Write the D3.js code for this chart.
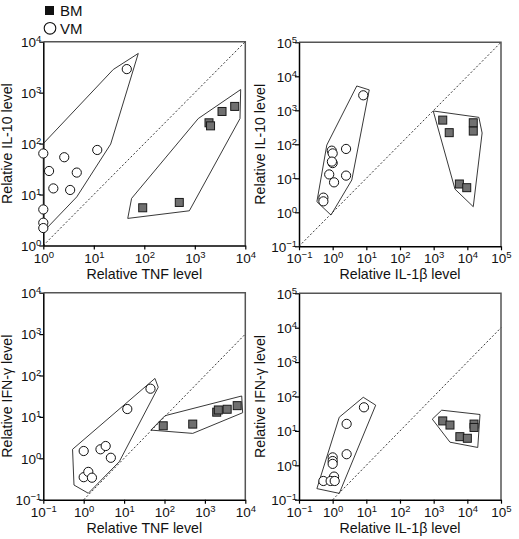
<!DOCTYPE html>
<html><head><meta charset="utf-8">
<script src="https://cdn.jsdelivr.net/npm/d3@7"></script>
<style>
body{margin:0;background:#fff;}
text{font-family:"Liberation Sans",Arial,Helvetica,sans-serif;fill:#111;}
</style></head>
<body>
<script>
// ---------- DATA ----------
// Panel A: IL-10 vs TNF
const aBM = [[1910,256],[2050,223],[3460,427],[6170,537],[93,5.5],[493,7.0]];
const aVM = [[45,2900],[1,64],[2.6,54],[11.7,75],[1.3,29],[4.6,27],[1.58,13.2],[3.4,12.3],[1,5.1],[1,2.8],[1,2.2]];
const aHullVM = [[76,5880],[24.3,2850],[1,100],[1,1.86],[4.6,9],[21.6,98]];
const aHullBM = [[8100,1150],[1170,310],[56,8.4],[47,3.4],[780,4.8],[7850,310]];
const aDiag = [[1,1],[1e4,1e4]];
// Panel B: IL-10 vs IL-1β
const bBM = [[1860,515],[2900,220],[15000,430],[15000,245],[5800,6.8],[9600,5.3]];
const bVM = [[8.1,2760],[0.94,65],[1.0,54],[2.5,73],[1.0,28],[0.95,31],[0.79,13],[2.5,12],[1.1,7.6],[0.53,2.7],[0.53,2.1]];
const bHullVM = [[5.2,5190],[12.2,3980],[3.7,8.9],[0.89,0.83],[0.34,2.05],[0.67,95]];
const bHullBM = [[970,955],[22000,620],[27500,215],[15000,1.46],[4300,4.8]];
const bDiag = [[0.1,0.1],[1e5,1e5]];
// Panel C: IFN-γ vs TNF
const cBM = [[93,6.1],[500,6.7],[1960,13],[2150,14.7],[3560,15.3],[6300,18.7]];
const cVM = [[45,48],[12,15.5],[1.0,1.5],[2.6,1.65],[3.5,1.98],[4.7,1.03],[1.0,0.35],[1.3,0.47],[1.6,0.34]];
const cHullVM = [[58,85],[70,52],[7.6,0.83],[1.3,0.143],[0.575,0.226],[0.53,1.65]];
const cHullBM = [[8150,32],[103,10.7],[46,4.8],[500,4.0],[8600,12.6]];
const cDiag = [[1,0.1],[1e4,1e3]];
// Panel D: IFN-γ vs IL-1β
const dBM = [[1860,19.5],[3050,14.8],[6000,6.8],[10000,6.1],[15800,15.8],[15800,12.6]];
const dVM = [[8.5,48.5],[2.6,16],[2.6,2.1],[1.0,1.7],[1.0,1.33],[1.0,1.1],[1.1,0.47],[0.53,0.35],[0.87,0.35],[1.15,0.35]];
const dHullVM = [[8.1,95],[19,56],[1.57,0.153],[0.34,0.21],[1.57,25]];
const dHullBM = [[910,22],[1730,40],[23800,30],[20400,3.3],[3050,4.7]];
const dDiag = [[1,0.1],[1e5,1e4]];

const xTitles = ["Relative TNF level","Relative IL-1\u03B2 level","Relative TNF level","Relative IL-1\u03B2 level"];
const yTitles = ["Relative IL-10 level","Relative IL-10 level","Relative IFN-\u03B3 level","Relative IFN-\u03B3 level"];
const xDomains = [[1,1e4],[0.1,1e5],[0.1,1e4],[0.1,1e5]];
const yDomains = [[1,1e4],[0.1,1e5],[0.1,1e4],[0.1,1e5]];
const legendLabels = ["BM","VM"];

// ---------- LAYOUT ----------
const W=519,H=539;
const boxes = [
  {x0:43.3,x1:245.3,y0:245.5,y1:41.7,yt:31},
  {x0:299,x1:501,y0:246.3,y1:42.3,yt:34},
  {x0:43.3,x1:245.3,y0:499.7,y1:292.7,yt:31},
  {x0:299,x1:501,y0:499.7,y1:293.3,yt:34}
];
const panelData = [
  {bm:aBM,vm:aVM,hv:aHullVM,hb:aHullBM,diag:aDiag},
  {bm:bBM,vm:bVM,hv:bHullVM,hb:bHullBM,diag:bDiag},
  {bm:cBM,vm:cVM,hv:cHullVM,hb:cHullBM,diag:cDiag},
  {bm:dBM,vm:dVM,hv:dHullVM,hb:dHullBM,diag:dDiag}
];

const svg = d3.select("body").append("svg").attr("width",W).attr("height",H);

function supLabel(sel, v){
  const e = Math.round(Math.log10(v));
  sel.text("10");
  sel.append("tspan").attr("dy",-5).attr("font-size",9.5).text(e<0 ? "\u2212"+(-e) : String(e));
}

boxes.forEach((b,i)=>{
  const pd = panelData[i];
  const x = d3.scaleLog().domain(xDomains[i]).range([b.x0,b.x1]);
  const y = d3.scaleLog().domain(yDomains[i]).range([b.y0,b.y1]);
  const g = svg.append("g");
  const xt = d3.range(Math.log10(xDomains[i][0]), Math.log10(xDomains[i][1])+1).map(e=>Math.pow(10,e));
  const yt = d3.range(Math.log10(yDomains[i][0]), Math.log10(yDomains[i][1])+1).map(e=>Math.pow(10,e));

  // frame top/right
  g.append("path").attr("d",`M${b.x0},${b.y1}H${b.x1}V${b.y0}`).attr("fill","none").attr("stroke","#555").attr("stroke-width",1.5);

  // axes
  const xa = g.append("g").attr("transform",`translate(0,${b.y0})`)
    .call(d3.axisBottom(x).tickValues(xt).tickSize(4).tickSizeOuter(0).tickFormat(""));
  const ya = g.append("g").attr("transform",`translate(${b.x0},0)`)
    .call(d3.axisLeft(y).tickValues(yt).tickSize(4).tickSizeOuter(0).tickFormat(""));
  [xa,ya].forEach(a=>{a.select(".domain").attr("stroke","#000").attr("stroke-width",1.5);
    a.selectAll(".tick line").attr("stroke","#000").attr("stroke-width",1.2);});
  xa.selectAll(".tick").append("text").attr("y",17).attr("text-anchor","middle")
    .attr("font-size",13.5).attr("fill","#111").each(function(d){supLabel(d3.select(this),d);});
  ya.selectAll(".tick").append("text").attr("x",-2).attr("dy","0.35em").attr("text-anchor","end")
    .attr("font-size",13.5).attr("fill","#111").each(function(d){supLabel(d3.select(this),d);});

  // titles
  g.append("text").attr("x",(b.x0+b.x1)/2).attr("y",b.y0+33).attr("text-anchor","middle")
    .attr("font-size",14.2).text(xTitles[i]);
  g.append("text").attr("transform",`translate(${b.x0-b.yt},${(b.y0+b.y1)/2}) rotate(-90)`)
    .attr("text-anchor","middle").attr("font-size",14.2).text(yTitles[i]);

  // diagonal
  const line = d3.line().x(d=>x(d[0])).y(d=>y(d[1]));
  g.append("path").attr("d",line(pd.diag)).attr("fill","none").attr("stroke","#222")
    .attr("stroke-width",0.9).attr("stroke-dasharray","2,2");
  // hulls
  [pd.hv,pd.hb].forEach(h=>{
    g.append("path").attr("d",line(h)+"Z").attr("fill","none").attr("stroke","#222").attr("stroke-width",0.9);
  });
  // points
  g.selectAll(".bm").data(pd.bm).enter().append("rect")
    .attr("x",d=>x(d[0])-4).attr("y",d=>y(d[1])-4).attr("width",8).attr("height",8)
    .attr("fill","#707070").attr("stroke","#1a1a1a").attr("stroke-width",1);
  g.selectAll(".vm").data(pd.vm).enter().append("circle")
    .attr("cx",d=>x(d[0])).attr("cy",d=>y(d[1])).attr("r",4.6)
    .attr("fill","#fff").attr("stroke","#111").attr("stroke-width",1);
});

// legend
const lg = svg.append("g");
lg.append("rect").attr("x",45).attr("y",6).attr("width",9).attr("height",9).attr("fill","#111");
lg.append("text").attr("x",60).attr("y",16).attr("font-size",15).text(legendLabels[0]);
lg.append("circle").attr("cx",50).attr("cy",28.3).attr("r",5.8).attr("fill","#fff").attr("stroke","#111").attr("stroke-width",1.1);
lg.append("text").attr("x",60).attr("y",33.5).attr("font-size",15).text(legendLabels[1]);
</script>
</body></html>
